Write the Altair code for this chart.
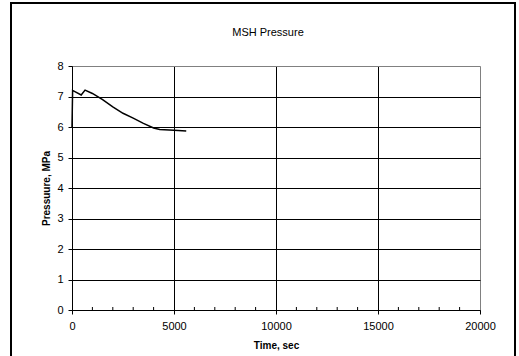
import altair as alt
import pandas as pd

title_text = "MSH Pressure"
time_sec = [0, 30, 450, 640, 1000, 1500, 2000, 2500, 3000, 3500, 4000, 4300, 5000, 5600]
pressure_mpa = [6.0, 7.2, 7.05, 7.21, 7.10, 6.90, 6.66, 6.45, 6.29, 6.12, 5.97, 5.92, 5.89, 5.87]
x_ticks = [0, 5000, 10000, 15000, 20000]
x_minor = [1000, 2000, 3000, 4000, 6000, 7000, 8000, 9000, 11000, 12000, 13000, 14000,
           16000, 17000, 18000, 19000]
y_ticks = [0, 1, 2, 3, 4, 5, 6, 7, 8]

df = pd.DataFrame({"t": time_sec, "p": pressure_mpa})
minor_df = pd.DataFrame({"t": x_minor})
one_df = pd.DataFrame({"label": [title_text]})

FONT = "Liberation Sans"

xscale = alt.Scale(domain=[0, 20000], nice=False)
yscale = alt.Scale(domain=[0, 8], nice=False)

line = alt.Chart(df).mark_line(color="black", strokeWidth=1.5).encode(
    x=alt.X("t:Q", scale=xscale,
            axis=alt.Axis(values=x_ticks, title="Time, sec", format="d",
                          grid=True,
                          gridColor=alt.condition("datum.value == 20000", alt.value("#808080"), alt.value("black")),
                          gridOpacity=1, gridWidth=1,
                          domainColor="black", tickColor="black", tickSize=4,
                          labelFont=FONT, labelFontSize=11, labelColor="black",
                          labelPadding=6, labelFlush=False,
                          titleFont=FONT, titleFontSize=10, titleFontWeight="bold",
                          titleColor="black", titlePadding=9)),
    y=alt.Y("p:Q", scale=yscale,
            axis=alt.Axis(values=y_ticks, title="Pressuure, MPa",
                          grid=True,
                          gridColor=alt.condition("datum.value == 8", alt.value("#808080"), alt.value("black")),
                          gridOpacity=1, gridWidth=1,
                          domainColor="black", tickColor="black", tickSize=4,
                          labelFont=FONT, labelFontSize=11, labelColor="black",
                          labelPadding=5,
                          titleFont=FONT, titleFontSize=10, titleFontWeight="bold",
                          titleColor="black", titlePadding=5)),
)

minor = alt.Chart(minor_df).mark_rule(color="black", strokeWidth=1).encode(
    x=alt.X("t:Q", scale=xscale),
    y=alt.value(241),
    y2=alt.value(244),
)

frame = alt.Chart(one_df).mark_rect(fill=None, stroke="black", strokeWidth=2, clip=False).encode(
    x=alt.value(-61), x2=alt.value(443),
    y=alt.value(-63), y2=alt.value(420),
)

title = alt.Chart(one_df).mark_text(font=FONT, fontSize=11, color="black",
                                    align="center", baseline="middle").encode(
    text="label:N",
    x=alt.value(196),
    y=alt.value(-33),
)

chart = alt.layer(line, minor, frame, title).properties(
    width=408,
    height=244,
    autosize=alt.AutoSizeParams(type="none"),
    padding={"left": 72, "top": 66, "right": 39, "bottom": 46},
).configure_view(stroke="#808080", strokeWidth=1).configure(background="white")

chart.save("out.html", embed_options={"renderer": "svg", "actions": False})
